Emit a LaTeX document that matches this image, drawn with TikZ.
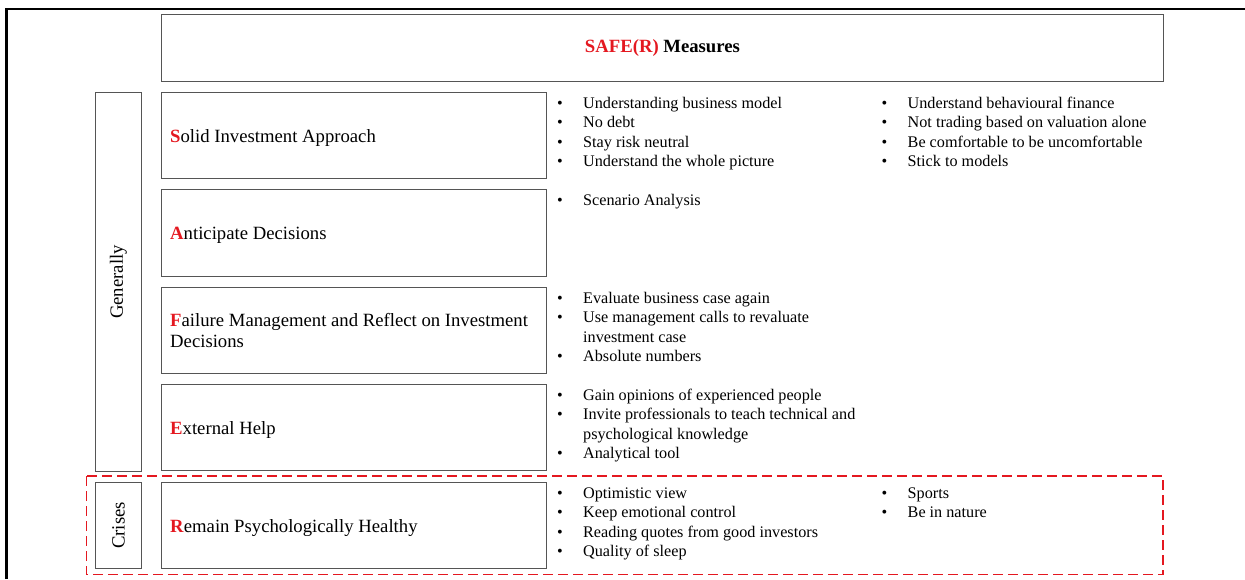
\documentclass[tikz,border=0pt]{standalone}
\usepackage{fontspec}
\setmainfont{Liberation Serif}
\usepackage{array}
\definecolor{safered}{RGB}{228,24,32}
\definecolor{edgegray}{RGB}{85,85,85}
\newcommand{\initial}[1]{\textcolor{safered}{\textbf{#1}}}
\newcommand{\bl}{\textbullet}
\tikzset{
  box/.style={draw=edgegray, line width=0.9pt, anchor=north west, inner sep=0pt},
  label/.style={anchor=west, inner sep=0pt, align=left,
                font=\fontsize{18.7}{21.7}\selectfont},
  oneline/.style={label, yshift=-2.5pt},
  side/.style={rotate=90, inner sep=0pt, font=\fontsize{18.7}{21.7}\selectfont},
  bullets/.style={anchor=base west, inner sep=0pt,
                  font=\fontsize{16.2}{19.6}\selectfont},
  crisisline/.style={draw=safered, line width=1.6pt, dash pattern=on 10pt off 5pt}
}
\begin{document}
\begin{tikzpicture}[x=1pt, y=-1pt]
\useasboundingbox (0,0) rectangle (1245,579);

% page frame
\draw[line width=2.6pt] (6.3,579) -- (6.3,9) -- (1245,9);

% title bar
\node[box, minimum width=1002pt, minimum height=67pt] (title) at (161,14) {};
\node[inner sep=0pt, font=\fontsize{18.7}{21.7}\selectfont\bfseries] (titletext) at (title.center)
  {\textcolor{safered}{SAFE(R)} Measures};

% scope boxes on the left
\node[box, minimum width=46pt, minimum height=379pt] (general) at (95,92) {};
\node[side] (generaltext) at (general.center) {Generally};
\node[box, minimum width=46pt, minimum height=86pt] (crises) at (95,482) {};
\node[side] (crisestext) at (crises.center) {Crises};

% the five measures
\node[box, minimum width=385pt, minimum height=86pt] (solid) at (161,92) {};
\node[box, minimum width=385pt, minimum height=87pt] (anticipate) at (161,189) {};
\node[box, minimum width=385pt, minimum height=86pt] (failure) at (161,287) {};
\node[box, minimum width=385pt, minimum height=86pt] (external) at (161,384) {};
\node[box, minimum width=385pt, minimum height=86pt] (remain) at (161,482) {};

\node[oneline, xshift=9pt] (solidtext) at (solid.west) {\initial{S}olid Investment Approach};
\node[oneline, xshift=9pt] (anticipatetext) at (anticipate.west) {\initial{A}nticipate Decisions};
\node[label, xshift=9pt] (failuretext) at (failure.west)
  {\initial{F}ailure Management and Reflect on Investment\\Decisions};
\node[oneline, xshift=9pt] (externaltext) at (external.west) {\initial{E}xternal Help};
\node[oneline, xshift=9pt] (remaintext) at (remain.west) {\initial{R}emain Psychologically Healthy};

% bullet lists
\node[bullets] (solidA) at (557,108) {\begin{tabular}[t]{@{}p{26pt}@{}l@{}}
  \bl & Understanding business model\\
  \bl & No debt\\
  \bl & Stay risk neutral\\
  \bl & Understand the whole picture
\end{tabular}};
\node[bullets] (solidB) at (881.5,108) {\begin{tabular}[t]{@{}p{26pt}@{}l@{}}
  \bl & Understand behavioural finance\\
  \bl & Not trading based on valuation alone\\
  \bl & Be comfortable to be uncomfortable\\
  \bl & Stick to models
\end{tabular}};
\node[bullets] (anticipateA) at (557,205) {\begin{tabular}[t]{@{}p{26pt}@{}l@{}}
  \bl & Scenario Analysis
\end{tabular}};
\node[bullets] (failureA) at (557,303) {\begin{tabular}[t]{@{}p{26pt}@{}l@{}}
  \bl & Evaluate business case again\\
  \bl & Use management calls to revaluate\\
      & investment case\\
  \bl & Absolute numbers
\end{tabular}};
\node[bullets] (externalA) at (557,400) {\begin{tabular}[t]{@{}p{26pt}@{}l@{}}
  \bl & Gain opinions of experienced people\\
  \bl & Invite professionals to teach technical and\\
      & psychological knowledge\\
  \bl & Analytical tool
\end{tabular}};
\node[bullets] (remainA) at (557,498) {\begin{tabular}[t]{@{}p{26pt}@{}l@{}}
  \bl & Optimistic view\\
  \bl & Keep emotional control\\
  \bl & Reading quotes from good investors\\
  \bl & Quality of sleep
\end{tabular}};
\node[bullets] (remainB) at (881.5,498) {\begin{tabular}[t]{@{}p{26pt}@{}l@{}}
  \bl & Sports\\
  \bl & Be in nature
\end{tabular}};

% crisis band
\draw[crisisline] (86.5,476) rectangle (1163,574.5);
\end{tikzpicture}
\end{document}
